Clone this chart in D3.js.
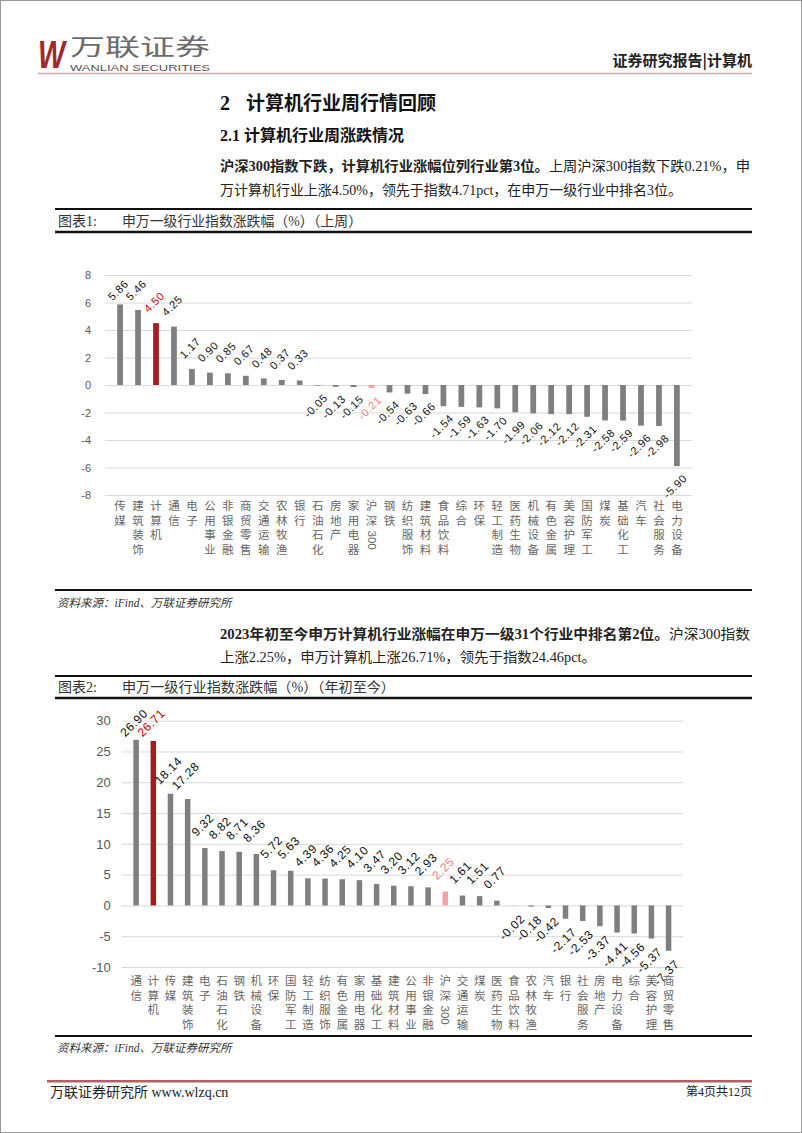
<!DOCTYPE html>
<html>
<head>
<meta charset="utf-8">
<script src="https://cdn.jsdelivr.net/npm/d3@7"></script>
<style>
body { margin: 0; background: #fff; }
text { font-family: "Liberation Serif", "Noto Sans CJK SC", serif; }
</style>
</head>
<body>
<svg id="page"></svg>
<script>
// 上周
const cats1 = ["传媒","建筑装饰","计算机","通信","电子","公用事业","非银金融","商贸零售","交通运输","农林牧渔","银行",
  "石油石化","房地产","家用电器","沪深300","钢铁","纺织服饰","建筑材料","食品饮料","综合","环保","轻工制造",
  "医药生物","机械设备","有色金属","美容护理","国防军工","煤炭","基础化工","汽车","社会服务","电力设备"];
const vals1 = [5.86,5.46,4.50,4.25,1.17,0.90,0.85,0.67,0.48,0.37,0.33,
  -0.05,-0.13,-0.15,-0.21,-0.54,-0.63,-0.66,-1.54,-1.59,-1.63,-1.70,
  -1.99,-2.06,-2.12,-2.12,-2.31,-2.58,-2.59,-2.96,-2.98,-5.90];
const ticks1 = [-8,-6,-4,-2,0,2,4,6,8];

// 年初至今
const cats2 = ["通信","计算机","传媒","建筑装饰","电子","石油石化","钢铁","机械设备","环保","国防军工","轻工制造",
  "纺织服饰","有色金属","家用电器","基础化工","建筑材料","公用事业","非银金融","沪深300","交通运输","煤炭",
  "医药生物","食品饮料","农林牧渔","汽车","银行","社会服务","房地产","电力设备","综合","美容护理","商贸零售"];
const vals2 = [26.90,26.71,18.14,17.28,9.32,8.82,8.71,8.36,5.72,5.63,4.39,
  4.36,4.25,4.10,3.47,3.20,3.12,2.93,2.25,1.61,1.51,
  0.77,-0.02,-0.18,-0.42,-2.17,-2.53,-3.37,-4.41,-4.56,-5.37,-7.37];
const ticks2 = [-10,-5,0,5,10,15,20,25,30];

const HL = "计算机", IDX = "沪深300";
const CJK = "'Noto Sans CJK SC', sans-serif";
const SANS = "'Liberation Sans', Arial, sans-serif";

const svg = d3.select("#page").attr("width", 802).attr("height", 1133);

svg.append("rect").attr("x", 0.5).attr("y", 0.5).attr("width", 801).attr("height", 1132)
  .attr("fill", "#fff").attr("stroke", "#9a9a9a");

// header
svg.append("text").attr("x", 38).attr("y", 68).text("W")
  .style("font-family", SANS).style("font-weight", "bold").style("font-style", "italic")
  .attr("font-size", 38).attr("fill", "#a3262a")
  .attr("textLength", 27).attr("lengthAdjust", "spacingAndGlyphs");
svg.append("text").attr("x", 70).attr("y", 55).text("万联证券")
  .style("font-family", CJK).attr("font-size", 23).attr("fill", "#6b6b6b")
  .attr("textLength", 140).attr("lengthAdjust", "spacingAndGlyphs");
svg.append("text").attr("x", 70).attr("y", 71).text("WANLIAN SECURITIES")
  .style("font-family", SANS).attr("font-size", 9).attr("fill", "#555")
  .attr("textLength", 140).attr("lengthAdjust", "spacingAndGlyphs");
svg.append("text").attr("x", 752).attr("y", 66).attr("text-anchor", "end").text("证券研究报告|计算机")
  .style("font-family", CJK).style("font-weight", "bold").attr("font-size", 15).attr("fill", "#222");
svg.append("line").attr("x1", 38).attr("x2", 752).attr("y1", 73.5).attr("y2", 73.5)
  .attr("stroke", "#cfa9aa").attr("stroke-width", 1.5);

// section titles
svg.append("text").attr("x", 220).attr("y", 110).text("2")
  .style("font-weight", "bold").attr("font-size", 20).attr("fill", "#111");
svg.append("text").attr("x", 246).attr("y", 110).text("计算机行业周行情回顾")
  .style("font-family", CJK).style("font-weight", "bold").attr("font-size", 19).attr("fill", "#111");
svg.append("text").attr("x", 220).attr("y", 141).attr("font-size", 16).attr("fill", "#111")
  .call(t => {
    t.append("tspan").style("font-weight", "bold").text("2.1 ");
    t.append("tspan").style("font-family", CJK).style("font-weight", "bold").text("计算机行业周涨跌情况");
  });

function para(y, len, bold, normal) {
  const t = svg.append("text").attr("x", 220).attr("y", y).attr("font-size", 14).attr("fill", "#222")
    .attr("textLength", len).attr("lengthAdjust", "spacingAndGlyphs");
  if (bold) t.append("tspan").style("font-weight", "bold").text(bold);
  if (normal) t.append("tspan").text(normal);
}
para(171, 530, "沪深300指数下跌，计算机行业涨幅位列行业第3位。", "上周沪深300指数下跌0.21%，申");
para(195, 462, null, "万计算机行业上涨4.50%，领先于指数4.71pct，在申万一级行业中排名3位。");
para(639, 530, "2023年初至今申万计算机行业涨幅在申万一级31个行业中排名第2位。", "沪深300指数");
para(662, 376, null, "上涨2.25%，申万计算机上涨26.71%，领先于指数24.46pct。");

function titleBox(y0, y1, label, title, len) {
  svg.append("line").attr("x1", 55).attr("x2", 752).attr("y1", y0).attr("y2", y0)
    .attr("stroke", "#111").attr("stroke-width", 2);
  svg.append("line").attr("x1", 55).attr("x2", 752).attr("y1", y1).attr("y2", y1)
    .attr("stroke", "#111").attr("stroke-width", 2.5);
  svg.append("text").attr("x", 58).attr("y", (y0 + y1) / 2 + 5).attr("font-size", 14).attr("fill", "#333").text(label);
  svg.append("text").attr("x", 122).attr("y", (y0 + y1) / 2 + 5).attr("font-size", 14).attr("fill", "#333")
    .attr("textLength", len).attr("lengthAdjust", "spacingAndGlyphs").text(title);
}
function source(yLine, yText) {
  svg.append("line").attr("x1", 55).attr("x2", 752).attr("y1", yLine).attr("y2", yLine)
    .attr("stroke", "#111").attr("stroke-width", 2);
  svg.append("text").attr("x", 57).attr("y", yText).attr("font-size", 11.5).attr("fill", "#333")
    .style("font-style", "italic").text("资料来源：iFind、万联证券研究所");
}

titleBox(209, 232, "图表1:", "申万一级行业指数涨跌幅（%）（上周）", 240);
source(590, 607);
titleBox(676, 698, "图表2:", "申万一级行业指数涨跌幅（%）（年初至今）", 273);
source(1036, 1052);

function drawChart(cats, vals, cfg) {
  const g = svg.append("g");
  const data = cats.map((c, i) => ({ name: c, value: vals[i] }));
  const x = d3.scaleBand().domain(cats).range(cfg.xr).padding(0.68);
  const y = d3.scaleLinear().domain(cfg.dom).range(cfg.yr);
  const bw = x.bandwidth();

  g.append("g").attr("transform", `translate(${cfg.xr[0]},0)`)
    .call(d3.axisLeft(y).tickValues(cfg.ticks).tickSize(-(cfg.xr[1] - cfg.xr[0]))
      .tickPadding(cfg.tickPad).tickFormat(d => d < 0 ? "-" + Math.abs(d) : d))
    .call(a => a.select(".domain").remove())
    .call(a => a.selectAll(".tick line").attr("stroke", "#d9d9d9"))
    .call(a => a.selectAll(".tick text").attr("font-size", cfg.tickFs).attr("fill", "#595959")
      .style("font-family", SANS));

  const fill = d => d.name === HL ? "#a51d1f" : d.name === IDX ? "#f3a1a1" : "#7f7f7f";
  const labelFill = d => d.name === HL ? "#c00000" : d.name === IDX ? "#f08080" : "#111";

  g.selectAll(".bar").data(data).enter().append("rect")
    .attr("class", "bar")
    .attr("x", d => x(d.name))
    .attr("width", bw)
    .attr("y", d => y(Math.max(0, d.value)))
    .attr("height", d => Math.abs(y(d.value) - y(0)))
    .attr("fill", fill);

  const fmt = d3.format(".2f");
  g.selectAll(".val").data(data).enter().append("text")
    .attr("class", "val")
    .attr("text-anchor", "middle")
    .attr("dominant-baseline", "central")
    .attr("font-size", cfg.valFs)
    .attr("letter-spacing", 0.6)
    .style("font-family", SANS)
    .attr("fill", labelFill)
    .attr("transform", d => {
      const cx = x(d.name) + bw / 2 - 2;
      const cy = d.value >= 0 ? Math.max(y(d.value) - cfg.offUp, cfg.minY) : y(d.value) + cfg.offDown;
      return `translate(${cx},${cy}) rotate(-45)`;
    })
    .text(d => fmt(d.value).replace("−", "-"));

  const cl = g.selectAll(".cat").data(data).enter().append("g")
    .attr("class", "cat")
    .attr("transform", d => `translate(${x(d.name) + bw / 2},${cfg.catY})`);
  cl.each(function (d) {
    const sel = d3.select(this);
    const m = d.name.match(/^(\D*)(\d*)$/);
    const chars = Array.from(m[1]);
    chars.forEach((ch, i) => {
      sel.append("text").attr("y", i * cfg.catStep).attr("text-anchor", "middle")
        .attr("font-size", cfg.catFs).attr("fill", "#666").style("font-family", CJK).text(ch);
    });
    if (m[2]) {
      sel.append("text")
        .attr("transform", `translate(-4,${(chars.length - 1) * cfg.catStep + 6}) rotate(90)`)
        .attr("font-size", cfg.catFs).attr("fill", "#666").style("font-family", SANS).text(m[2]);
    }
  });
}

drawChart(cats1, vals1, {
  xr: [105, 692], yr: [495, 275], dom: [-8, 8], ticks: ticks1,
  tickPad: 14, tickFs: 11, valFs: 11, offUp: 21, offDown: 20, minY: 290,
  catY: 510, catStep: 14.5, catFs: 11.5
});
drawChart(cats2, vals2, {
  xr: [121.7, 683], yr: [967, 720.7], dom: [-10, 30], ticks: ticks2,
  tickPad: 11, tickFs: 13, valFs: 12, offUp: 23, offDown: 22, minY: 723,
  catY: 985, catStep: 14.5, catFs: 11.5
});

// footer
svg.append("line").attr("x1", 47).attr("x2", 752).attr("y1", 1081).attr("y2", 1081)
  .attr("stroke", "#a3262a").attr("stroke-width", 1.5);
svg.append("line").attr("x1", 47).attr("x2", 752).attr("y1", 1082.5).attr("y2", 1082.5)
  .attr("stroke", "#bbb").attr("stroke-width", 1);
svg.append("text").attr("x", 50).attr("y", 1097).attr("font-size", 14).attr("fill", "#222")
  .call(t => {
    t.append("tspan").text("万联证券研究所  ");
    t.append("tspan").text("www.wlzq.cn");
  });
svg.append("text").attr("x", 752).attr("y", 1096).attr("text-anchor", "end").attr("font-size", 12)
  .attr("fill", "#222").text("第4页共12页");
</script>
</body>
</html>
